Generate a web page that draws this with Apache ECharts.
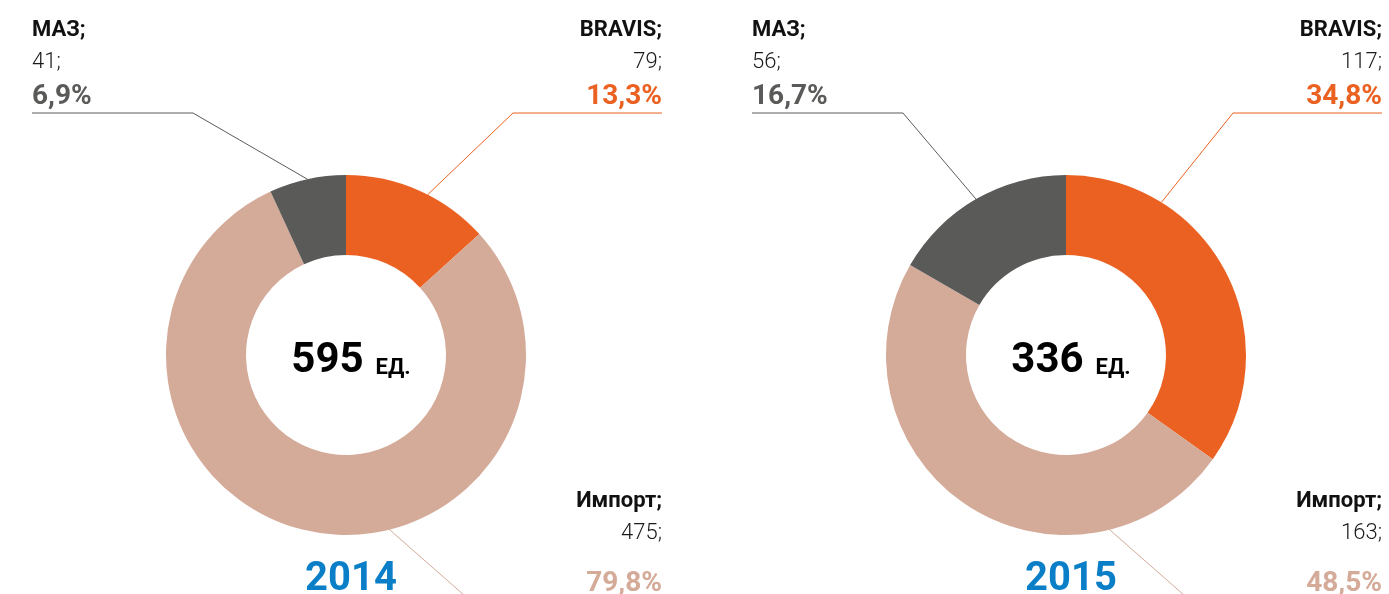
<!DOCTYPE html>
<html>
<head>
<meta charset="utf-8">
<script src="https://cdn.jsdelivr.net/npm/echarts@6/dist/echarts.min.js"></script>
<style>
  html, body { margin: 0; background: #fff; }
  #chart { width: 1389px; height: 594px; }
</style>
</head>
<body>
<div id="chart"></div>
<script>
const names = ['BRAVIS', 'Импорт', 'МАЗ'];
const years = ['2014', '2015'];
const values2014 = [79, 475, 41];
const values2015 = [117, 163, 56];
const unit = 'ЕД.';
const colors = ['#eb6121', '#d4aa98', '#5a5a58'];

const chart = echarts.init(document.getElementById('chart'));
const font = 'Roboto, sans-serif';
const R0 = 100, R1 = 180, CY = 355;
const centersX = [346, 1066];

// where each slice's label sits and how its leader line runs
const placements = [
  [
    { x: 662, y: 14, align: 'right', angle: 27, elbow: [513, 113], end: [662, 113], pctLine: 37 },
    { x: 662, y: 485, align: 'right', angle: 166, elbow: [481, 610], end: [662, 610], pctLine: 70 },
    { x: 32, y: 14, align: 'left', angle: 347.6, elbow: [193, 113], end: [32, 113], pctLine: 37 }
  ],
  [
    { x: 1382, y: 14, align: 'right', angle: 32, elbow: [1233, 113], end: [1382, 113], pctLine: 37 },
    { x: 1382, y: 485, align: 'right', angle: 166, elbow: [1201, 610], end: [1382, 610], pctLine: 70 },
    { x: 752, y: 14, align: 'left', angle: 330, elbow: [903, 113], end: [752, 113], pctLine: 37 }
  ]
];

function makeSeries(k, values) {
  const cx = centersX[k];
  const rich = {
    n: { fontFamily: font, fontSize: 22, fontWeight: 'bold', color: '#111', lineHeight: 32 },
    v: { fontFamily: font, fontSize: 22, fontWeight: 300, color: '#1a1a1a', lineHeight: 32 }
  };
  placements[k].forEach((pl, i) => {
    rich['p' + i] = { fontFamily: font, fontSize: 28, fontWeight: 'bold', color: colors[i], lineHeight: pl.pctLine };
  });
  return {
    type: 'pie',
    center: [cx, CY],
    radius: [R0, R1],
    startAngle: 90,
    clockwise: true,
    avoidLabelOverlap: false,
    silent: true,
    data: names.map((n, i) => ({ name: n, value: values[i], itemStyle: { color: colors[i] } })),
    label: {
      show: true,
      position: 'outside',
      formatter: p => '{n|' + p.name + ';}\n{v|' + p.value + ';}\n{p' + p.dataIndex + '|' +
        p.percent.toFixed(1).replace('.', ',') + '%}',
      rich: rich
    },
    labelLine: { show: true, lineStyle: { width: 1 } },
    labelLayout: p => {
      const pl = placements[k][p.dataIndex];
      const a = pl.angle * Math.PI / 180;
      return {
        x: pl.x, y: pl.y, align: pl.align, verticalAlign: 'top',
        labelLinePoints: [[cx + R1 * Math.sin(a), CY - R1 * Math.cos(a)], pl.elbow, pl.end]
      };
    }
  };
}

const allValues = [values2014, values2015];
const titles = [];
allValues.forEach((vals, k) => {
  const total = vals.reduce((s, v) => s + v, 0);
  titles.push({
    text: '{a|' + total + '}{b|' + unit + '}',
    left: centersX[k], top: 356, textAlign: 'center', textVerticalAlign: 'middle',
    textStyle: {
      rich: {
        a: { fontFamily: font, fontSize: 42, fontWeight: 'bold', color: '#000', verticalAlign: 'bottom', lineHeight: 42 },
        b: { fontFamily: font, fontSize: 22, fontWeight: 'bold', color: '#000', verticalAlign: 'bottom', lineHeight: 22, padding: [0, 0, 3, 12] }
      }
    }
  });
  titles.push({
    text: years[k],
    left: centersX[k], top: 575, textAlign: 'center', textVerticalAlign: 'middle',
    textStyle: { fontFamily: font, fontSize: 40, fontWeight: 'bold', color: '#0a7ec7' }
  });
});

chart.setOption({
  animation: false,
  title: titles,
  series: allValues.map((vals, k) => makeSeries(k, vals))
});
</script>
</body>
</html>
